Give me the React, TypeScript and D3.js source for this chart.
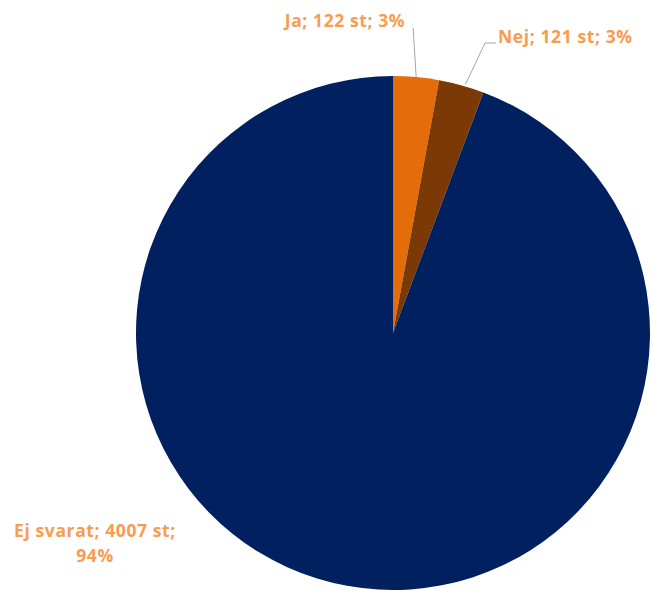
import React, { useEffect, useRef } from 'react';
import * as d3 from 'd3';

const categories = ['Ja', 'Nej', 'Ej svarat'];
const counts = [122, 121, 4007];
const percents = ['3%', '3%', '94%'];
const colors = ['#E46C0A', '#7B3A05', '#002060'];

const W = 651;
const H = 590;

function App() {
  const svgRef = useRef<SVGSVGElement>(null);

  useEffect(() => {
    const svg = d3.select(svgRef.current);
    svg.selectAll('*').remove();

    const cx = 393;
    const cy = 333;
    const radius = 257;

    const data = categories.map((name, i) => ({ name, value: counts[i], pct: percents[i] }));

    const pie = d3
      .pie<{ name: string; value: number; pct: string }>()
      .value(d => d.value)
      .sort(null);

    const arcs = pie(data);
    const arcGen = d3.arc<any>().innerRadius(0).outerRadius(radius);

    const g = svg.append('g').attr('transform', `translate(${cx},${cy})`);

    g.selectAll('path.slice')
      .data(arcs)
      .join('path')
      .attr('class', 'slice')
      .attr('fill', (d, i) => colors[i])
      .attr('d', arcGen as any);

    const labelColor = '#F89C50';
    const font = '"Open Sans", sans-serif';
    const fs = 17.5;
    const ls = 0.6;

    const label = (x: number, y: number, anchor: string) =>
      svg.append('text')
        .attr('x', x)
        .attr('y', y)
        .attr('text-anchor', anchor)
        .attr('font-family', font)
        .attr('font-weight', 'bold')
        .attr('font-size', fs)
        .attr('letter-spacing', ls)
        .attr('fill', labelColor);

    // point on outer edge at the middle of a slice
    const edge = (d: any) => {
      const a = (d.startAngle + d.endAngle) / 2;
      return [cx + radius * Math.sin(a), cy - radius * Math.cos(a)];
    };

    // Ja
    const [jx, jy] = edge(arcs[0]);
    svg.append('polyline')
      .attr('points', `${jx},${jy} ${jx - 3},${28}`)
      .attr('fill', 'none')
      .attr('stroke', '#A6A6A6')
      .attr('stroke-width', 1);
    label(345, 27, 'middle')
      .text(`${arcs[0].data.name}; ${arcs[0].data.value} st; ${arcs[0].data.pct}`);

    // Nej
    const [nx, ny] = edge(arcs[1]);
    svg.append('polyline')
      .attr('points', `${nx + 4},${ny - 1} 485,43 496,43`)
      .attr('fill', 'none')
      .attr('stroke', '#A6A6A6')
      .attr('stroke-width', 1);
    label(498, 43, 'start')
      .text(`${arcs[1].data.name}; ${arcs[1].data.value} st; ${arcs[1].data.pct}`);

    // Ej svarat
    const t = label(95, 537, 'middle');
    t.append('tspan')
      .attr('x', 95)
      .attr('y', 537)
      .text(`${arcs[2].data.name}; ${arcs[2].data.value} st;`);
    t.append('tspan')
      .attr('x', 95)
      .attr('y', 562)
      .text(arcs[2].data.pct);
  }, []);

  return (
    <div style={{ width: W, height: H, position: 'absolute', left: 0, top: 0 }}>
      <svg ref={svgRef} width={W} height={H} style={{ display: 'block', background: '#fff' }}></svg>
    </div>
  );
}

export default App;
